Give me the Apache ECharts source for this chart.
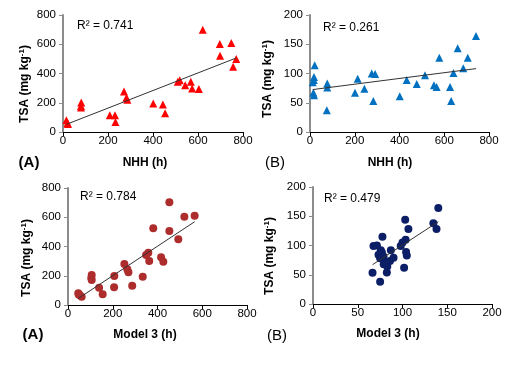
<!DOCTYPE html>
<html><head><meta charset="utf-8">
<script src="https://cdn.jsdelivr.net/npm/echarts@6/dist/echarts.min.js"></script>
<style>html,body{margin:0;padding:0;background:#fff}#c{width:525px;height:365px}</style>
</head><body><div id="c"></div>
<script>
// Panel A (top): NHH vs TSA
var nhhA = [15, 20, 22, 81, 80, 80, 208, 231, 233, 271, 282, 286, 401, 444, 454, 510, 519, 543, 568, 574, 604, 621, 697, 698, 748, 756, 770];
var tsaA1 = [80, 62, 55, 201, 178, 167, 114, 114, 69, 277, 235, 220, 195, 188, 128, 343, 354, 319, 343, 297, 294, 700, 601, 521, 608, 446, 500];
// Panel B (top): NHH vs TSA
var nhhB = [21, 18, 17, 12, 15, 18, 77, 77, 75, 201, 213, 243, 276, 291, 283, 401, 432, 477, 514, 554, 566, 578, 626, 631, 641, 660, 685, 705, 742];
var tsaB1 = [114, 94, 89, 85, 67, 63, 83, 76, 37, 67, 91, 74, 100, 99, 53, 61, 89, 82, 97, 80, 77, 127, 77, 53, 101, 143, 109, 127, 164];
// Panel A (bottom): Model 3 vs TSA
var m3A = [46, 52, 61, 48, 106, 106, 104, 139, 155, 207, 206, 252, 265, 270, 287, 334, 349, 359, 363, 381, 416, 426, 453, 453, 493, 520, 566];
var tsaA2 = [80, 68, 57, 72, 205, 171, 185, 118, 73, 198, 121, 280, 244, 224, 132, 194, 342, 358, 301, 524, 326, 296, 702, 506, 449, 604, 610];
// Panel B (bottom): Model 3 vs TSA
var m3B = [66.5, 75, 67.6, 71.4, 77.6, 75.8, 73.2, 75, 78.8, 82.5, 87, 86, 90, 81.8, 83, 98, 100, 103, 106.6, 104, 104.8, 101.8, 103.5, 140, 134.5, 138, 77, 79];
var tsaB2 = [53.5, 38, 99, 100, 115, 92, 84, 78, 81, 54, 92, 73.5, 79, 72, 64, 99, 105, 144, 128, 89, 83, 62, 110, 164, 138, 128, 88, 68];
var r2 = ['R² = 0.741', 'R² = 0.261', 'R² = 0.784', 'R² = 0.479'];
var xNames = ['NHH (h)', 'NHH (h)', 'Model 3 (h)', 'Model 3 (h)'];
var panelLabels = ['(A)', '(B)', '(A)', '(B)'];

function pairs(xs, ys){ return xs.map(function(x,i){return [x, ys[i]];}); }
function fit(xs, ys){
  var n = xs.length, sx=0, sy=0, sxx=0, sxy=0;
  for (var i=0;i<n;i++){ sx+=xs[i]; sy+=ys[i]; sxx+=xs[i]*xs[i]; sxy+=xs[i]*ys[i]; }
  var b = (n*sxy - sx*sy)/(n*sxx - sx*sx), a = (sy - b*sx)/n;
  var mn = Math.min.apply(null, xs), mx = Math.max.apply(null, xs);
  return [[mn, a+b*mn],[mx, a+b*mx]];
}
var FONT = 'Arial, "Liberation Sans", sans-serif';
var grids = [
  {left:63, top:15, width:180, height:117},
  {left:310, top:15, width:179, height:117},
  {left:68, top:188, width:179, height:117},
  {left:313, top:187, width:179, height:117}
];
var xMax = [800, 800, 800, 200], xInt = [200, 200, 200, 50];
var yMax = [800, 200, 800, 200], yInt = [200, 50, 200, 50];
var sets = [[nhhA, tsaA1],[nhhB, tsaB1],[m3A, tsaA2],[m3B, tsaB2]];
var colors = ['#ff0000', '#0070c0', '#ad2d2d', '#0c1f66'];
var symbols = ['triangle', 'triangle', 'circle', 'circle'];
var sizes = [8, 8, 8, 8];

var xAxes = [], yAxes = [], series = [], graphics = [];
for (var k=0;k<4;k++){
  xAxes.push({gridIndex:k, type:'value', min:0, max:xMax[k], interval:xInt[k],
    axisLine:{show:true, onZero:false, lineStyle:{color:'#000', width:1}},
    axisTick:{show:true, length:4, lineStyle:{color:'#000'}},
    axisLabel:{fontSize:11.5, color:'#000', fontFamily:FONT, margin:3},
    splitLine:{show:false}});
  yAxes.push({gridIndex:k, type:'value', min:0, max:yMax[k], interval:yInt[k],
    axisLine:{show:true, onZero:false, lineStyle:{color:'#8c8c8c', width:2}},
    axisTick:{show:true, length:4, lineStyle:{color:'#8c8c8c'}},
    axisLabel:{fontSize:11.5, color:'#000', fontFamily:FONT, margin:7},
    splitLine:{show:false}});
  series.push({type:'line', xAxisIndex:k, yAxisIndex:k, data:fit(sets[k][0], sets[k][1]),
    symbol:'none', lineStyle:{color:'#333', width:1}, silent:true, z:3});
  series.push({type:'scatter', xAxisIndex:k, yAxisIndex:k, data:pairs(sets[k][0], sets[k][1]),
    symbol:symbols[k], symbolSize:sizes[k], itemStyle:{color:colors[k], opacity:1}, z:2});
}
var tsaPos = [[25,84],[268,79],[27,258],[270,256]];
var xnPos = [[145,163],[390,163],[145,335],[388,334]];
var lblPos = [[29,163],[275,163],[33,335],[277,336]];
var r2Pos = [[77,26],[323,28],[80,197],[324,199]];
for (var k=0;k<4;k++){
  graphics.push({type:'text', x:tsaPos[k][0], y:tsaPos[k][1], rotation:Math.PI/2,
    style:{text:'{a|TSA (mg kg}{s|-1}{a|)}', align:'center', verticalAlign:'middle',
      rich:{a:{font:'bold 12px '+FONT, fill:'#000'}, s:{font:'bold 8px '+FONT, fill:'#000', padding:[0,0,6,0]}}}});
  graphics.push({type:'text', x:xnPos[k][0], y:xnPos[k][1],
    style:{text:xNames[k], font:'bold 12px '+FONT, fill:'#000', align:'center', verticalAlign:'middle'}});
  graphics.push({type:'text', x:lblPos[k][0], y:lblPos[k][1],
    style:{text:panelLabels[k], font:(k%2===0?'bold ':'')+'15px '+FONT, fill:'#000', align:'center', verticalAlign:'middle'}});
  graphics.push({type:'text', x:r2Pos[k][0], y:r2Pos[k][1],
    style:{text:r2[k], font:'12px '+FONT, fill:'#000', align:'left', verticalAlign:'middle'}});
}
var chart = echarts.init(document.getElementById('c'), null, {renderer:'canvas'});
chart.setOption({animation:false, backgroundColor:'#fff', grid:grids, xAxis:xAxes, yAxis:yAxes, series:series, graphic:graphics});
</script></body></html>
